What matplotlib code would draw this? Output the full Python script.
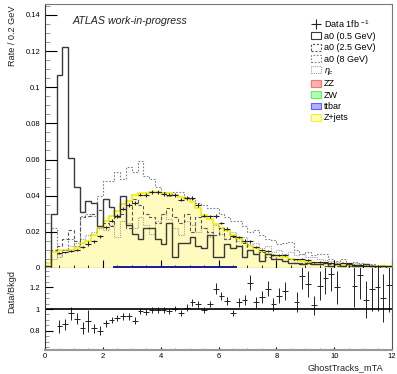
import numpy as np
import matplotlib
matplotlib.use('Agg')
import matplotlib.pyplot as plt
from matplotlib.patches import Patch
from matplotlib.lines import Line2D
from matplotlib.ticker import MultipleLocator

plt.rcParams['font.family'] = ['Liberation Sans', 'DejaVu Sans']
plt.rcParams['mathtext.fontset'] = 'custom'
plt.rcParams['mathtext.rm'] = 'Liberation Sans'
plt.rcParams['mathtext.it'] = 'Liberation Sans:italic'

# 60 bins of 0.2 GeV from 0 to 12
edges = np.round(np.arange(0, 12.01, 0.2), 1)
centers = 0.5 * (edges[:-1] + edges[1:])

# backgrounds
zjets = [0.003, 0.009, 0.010, 0.010, 0.010, 0.011, 0.014, 0.015, 0.018, 0.022,
         0.026, 0.029, 0.031, 0.035, 0.037, 0.040, 0.041, 0.041, 0.042, 0.042,
         0.041, 0.041, 0.040, 0.039, 0.038, 0.036, 0.033, 0.029, 0.027, 0.024,
         0.022, 0.020, 0.018, 0.016, 0.014, 0.012, 0.011, 0.009, 0.008, 0.007,
         0.0065, 0.006, 0.005, 0.0045, 0.004, 0.0035, 0.003, 0.0028, 0.0025, 0.0022,
         0.002, 0.0018, 0.0016, 0.0014, 0.0013, 0.0012, 0.0011, 0.001, 0.001, 0.0009]
ttbar = [0]*12 + [0.0003]*21 + [0]*27

# data
data = [np.nan, np.nan, 0.0084, 0.0086, 0.0096, 0.0100, 0.0116, 0.0134, 0.0148, 0.0176,
        0.0226, 0.0261, 0.0287, 0.0329, 0.0348, 0.0360, 0.0406, 0.0402, 0.0420, 0.0420,
        0.0410, 0.0406, 0.0404, 0.0378, 0.0388, 0.0385, 0.0347, 0.0290, 0.0285, 0.0288,
        0.0249, 0.0218, 0.0176, 0.0170, 0.0152, 0.0149, 0.0117, 0.0100, 0.0095, 0.0073,
        0.0073, 0.0070, np.nan, 0.0048, 0.0052, 0.0043, 0.0031, 0.0034, 0.0032, 0.0029,
        0.0024, 0.0029, 0.0026, 0.0017, 0.0017, 0.0013, 0.0013, 0.0012, 0.0011, 0.0011]
ratio_err = [np.nan, np.nan, .055, .05, .06, .05, .055, .10, .04, .04,
             .03, .03, .03, .03, .03, .03, .025, .025, .025, .025,
             .025, .025, .025, .025, .03, .03, .03, .03, .03, .05,
             .035, .035, .03, .04, .045, .07, .05, .055, .065, .06,
             .07, .08, np.nan, .09, .12, .12, .09, .13, .14, .15,
             .15, .2, .2, .2, .22, .17, .2, .22, .22, .25]

# signals
a0_05 = [0.001, 0.030, 0.107, 0.122, 0.061, 0.045, 0.031, 0.037, 0.036, 0.023,
         0.038, 0.034, 0.029, 0.040, 0.024, 0.019, 0.016, 0.022, 0.022, 0.016,
         0.013, 0.025, 0.006, 0.014, 0.014, 0.017, 0.012, 0.011, 0.018, 0.006,
         0.006, 0.013, 0.011, 0.012, 0.006, 0.010, 0.008, 0.004, 0.008, 0.005,
         0.005, 0.004, 0.003, 0.003, 0.002, 0.003, 0.002, 0.002, 0.003, 0.001,
         0.002, 0.001, 0.002, 0.001, 0.001, 0.002, 0.001, 0.0, 0.001, 0.0]
a0_25 = [0.0, 0.010, 0.012, 0.016, 0.021, 0.015, 0.028, 0.029, 0.030, 0.032,
         0.025, 0.023, 0.028, 0.030, 0.022, 0.038, 0.035, 0.030, 0.028, 0.025,
         0.030, 0.033, 0.028, 0.025, 0.030, 0.020, 0.028, 0.022, 0.020, 0.018,
         0.022, 0.016, 0.017, 0.012, 0.014, 0.010, 0.008, 0.009, 0.006, 0.007,
         0.005, 0.004, 0.005, 0.003, 0.003, 0.002, 0.002, 0.002, 0.001, 0.002,
         0.001, 0.001, 0.001, 0.001, 0.0, 0.001, 0.0, 0.0, 0.0, 0.0]
a0_8 = [0.0, 0.022, 0.006, 0.010, 0.016, 0.012, 0.029, 0.030, 0.029, 0.040,
        0.048, 0.048, 0.053, 0.049, 0.056, 0.053, 0.059, 0.051, 0.049, 0.045,
        0.042, 0.040, 0.042, 0.042, 0.039, 0.038, 0.036, 0.035, 0.033, 0.033,
        0.030, 0.028, 0.026, 0.026, 0.023, 0.020, 0.021, 0.018, 0.016, 0.0156,
        0.013, 0.014, 0.0143, 0.010, 0.008, 0.009, 0.007, 0.0077, 0.0077, 0.005,
        0.004, 0.005, 0.003, 0.0035, 0.003, 0.002, 0.002, 0.001, 0.001, 0.001]
eta_c = [0.0, 0.005, 0.008, 0.010, 0.012, 0.014, 0.016, 0.018, 0.020, 0.022,
         0.021, 0.024, 0.017, 0.026, 0.025, 0.022, 0.028, 0.024, 0.019, 0.026,
         0.030, 0.027, 0.022, 0.018, 0.026, 0.024, 0.020, 0.022, 0.017, 0.024,
         0.019, 0.016, 0.020, 0.015, 0.017, 0.013, 0.014, 0.011, 0.012, 0.009,
         0.010, 0.008, 0.009, 0.007, 0.008, 0.006, 0.006, 0.005, 0.0045, 0.004,
         0.0035, 0.003, 0.0028, 0.0025, 0.002, 0.002, 0.0015, 0.0012, 0.001, 0.001]

zjets = np.array(zjets)
ttbar = np.array(ttbar)
data = np.array(data)
ratio_err = np.array(ratio_err)
bkg = zjets + ttbar
ratio = data / bkg

fig = plt.figure(figsize=(3.97, 3.74), dpi=100)
ax1 = fig.add_axes([45/397, 106/374, 347/397, 264/374])
ax2 = fig.add_axes([45/397, 24/374, 347/397, 82/374])

# stacked backgrounds
ax1.stairs(bkg, edges, baseline=ttbar, fill=True, facecolor='#fffbbe', edgecolor='none')
ax1.stairs(bkg, edges, baseline=None, color='#f2ee00', lw=1.2)
idx = np.where(ttbar > 0)[0]
ax1.stairs(ttbar[idx], edges[idx[0]:idx[-1]+2], color='#1a1a99', lw=1.4, zorder=5,
           clip_on=False)

# signals
ax1.stairs(eta_c, edges, baseline=None, color='#a0a0a0', lw=0.8, ls=(0, (1, 1)))
ax1.stairs(a0_8, edges, baseline=None, color='#808080', lw=0.8, ls=(0, (1.5, 1.5)))
ax1.stairs(a0_25, edges, baseline=None, color='#555555', lw=0.8, ls=(0, (3, 2)))
ax1.stairs(a0_05, edges, baseline=None, color='#3a3a3a', lw=1.0)

# data
ax1.errorbar(centers, data, xerr=0.1, yerr=ratio_err * bkg, fmt='none',
             ecolor='#222222', elinewidth=0.8, capsize=0)

ax1.set_xlim(0, 12)
ax1.set_ylim(0, 0.146)
ax1.xaxis.set_major_locator(MultipleLocator(2))
ax1.xaxis.set_minor_locator(MultipleLocator(0.5))
ax1.yaxis.set_minor_locator(MultipleLocator(0.005))
ax1.set_yticks(np.arange(0, 0.141, 0.02))
ax1.set_yticklabels(['0', '0.02', '0.04', '0.06', '0.08', '0.1', '0.12', '0.14'])
ax1.tick_params(axis='both', which='both', direction='in', labelsize=5.5, pad=3.5)
ax1.tick_params(axis='y', which='major', length=8.4, width=0.8)
ax1.tick_params(axis='y', which='minor', length=3.6, width=0.6, color='#888888')
ax1.tick_params(axis='x', which='major', length=5.5, width=0.8)
ax1.tick_params(axis='x', which='minor', length=2.5, width=0.6)
ax1.tick_params(axis='x', labelbottom=False)
for s in ['top', 'right']:
    ax1.spines[s].set_color('#777777')
ax1.spines['left'].set_color('#333333')
ax1.spines['bottom'].set_color('#222222')

ax1.text((73 - 45)/347, 1 - 17/264, 'ATLAS work-in-progress', transform=ax1.transAxes,
         style='italic', fontsize=7.7, va='center', ha='left', color='#222222')

handles = [Line2D([], [], marker='+', ls='none', color='#222222', markersize=7, mew=0.8),
           Patch(facecolor='white', edgecolor='#3a3a3a', lw=0.8),
           Patch(facecolor='white', edgecolor='#555555', lw=0.8, ls=(0, (2, 1.5))),
           Patch(facecolor='white', edgecolor='#808080', lw=0.8, ls=(0, (1.5, 1.5))),
           Patch(facecolor='white', edgecolor='#a0a0a0', lw=0.8, ls=(0, (1, 1))),
           Patch(facecolor='#ffb0b0', edgecolor='#ff7070', lw=0.8),
           Patch(facecolor='#b0ffb0', edgecolor='#60ee60', lw=0.8),
           Patch(facecolor='#b0b0ff', edgecolor='#6060ff', lw=0.8),
           Patch(facecolor='#ffffb0', edgecolor='#f2ee40', lw=0.8)]
labels = ['Data 1fb $^{-1}$', 'a0 (0.5 GeV)', 'a0 (2.5 GeV)', 'a0 (8 GeV)',
          r'$\eta_{c}$', 'ZZ', 'ZW', 'ttbar', 'Z+jets']
leg = fig.legend(handles, labels, loc='upper left',
                 bbox_to_anchor=(311/397, 1 - 18/374), frameon=False,
                 fontsize=6.5, handlelength=1.1, handleheight=0.8,
                 handletextpad=0.35, labelspacing=0.26, borderpad=0, borderaxespad=0)

# ratio panel
ax2.errorbar(centers, ratio, xerr=0.1, yerr=ratio_err, fmt='none',
             ecolor='#222222', elinewidth=0.7, capsize=0)
ax2.axhline(1, color='black', lw=1.2)
ax2.set_xlim(0, 12)
ax2.set_ylim(0.625, 1.375)
ax2.xaxis.set_major_locator(MultipleLocator(2))
ax2.xaxis.set_minor_locator(MultipleLocator(0.5))
ax2.set_yticks([0.8, 1.0, 1.2])
ax2.set_yticklabels(['0.8', '1', '1.2'])
ax2.yaxis.set_minor_locator(MultipleLocator(0.05))
ax2.tick_params(axis='both', which='both', direction='in', labelsize=5.5)
ax2.tick_params(axis='y', which='major', length=5.5, width=0.8, pad=3.5)
ax2.tick_params(axis='y', which='minor', length=2.8, width=0.6, color='#888888')
ax2.tick_params(axis='x', which='major', length=2.5, width=0.8, pad=2)
ax2.tick_params(axis='x', which='minor', length=1.5, width=0.6, color='#888888')
ax2.spines['top'].set_visible(False)
ax2.spines['right'].set_color('#555555')
ax2.spines['left'].set_color('#333333')
ax2.spines['bottom'].set_color('#999999')
ax2.spines['bottom'].set_linewidth(1.5)

fig.text(13/397, 1 - 5/374, 'Rate / 0.2 GeV', rotation=90, ha='center', va='top',
         fontsize=6.6, color='#222222')
fig.text(11.7/397, 1 - 270/374, 'Data/Bkgd', rotation=90, ha='center', va='top',
         fontsize=6.6, color='#222222')
fig.text(383/397, 1 - 367.7/374, 'GhostTracks_mTA', ha='right', va='center',
         fontsize=6.6, color='#222222')

fig.savefig('out.png', dpi=100)
